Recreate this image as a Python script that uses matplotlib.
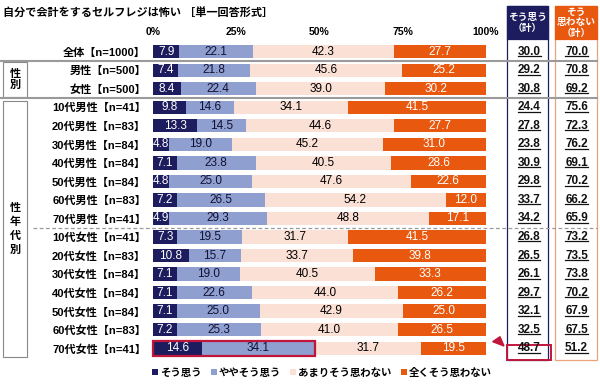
import matplotlib

matplotlib.use("Agg")
import matplotlib.pyplot as plt
from matplotlib.patches import Polygon, Rectangle
from matplotlib.transforms import blended_transform_factory

plt.rcParams["font.family"] = ["Liberation Sans", "Noto Sans CJK JP", "DejaVu Sans"]
plt.rcParams["font.weight"] = "bold"

# --- data -----------------------------------------------------------------
groups = ["全体", "男性", "女性",
          "10代男性", "20代男性", "30代男性", "40代男性", "50代男性", "60代男性", "70代男性",
          "10代女性", "20代女性", "30代女性", "40代女性", "50代女性", "60代女性", "70代女性"]
sizes = [1000, 500, 500, 41, 83, 84, 84, 84, 83, 41, 41, 83, 84, 84, 84, 83, 41]
strongly_agree = [7.9, 7.4, 8.4, 9.8, 13.3, 4.8, 7.1, 4.8, 7.2, 4.9,
                  7.3, 10.8, 7.1, 7.1, 7.1, 7.2, 14.6]
somewhat_agree = [22.1, 21.8, 22.4, 14.6, 14.5, 19.0, 23.8, 25.0, 26.5, 29.3,
                  19.5, 15.7, 19.0, 22.6, 25.0, 25.3, 34.1]
not_really = [42.3, 45.6, 39.0, 34.1, 44.6, 45.2, 40.5, 47.6, 54.2, 48.8,
              31.7, 33.7, 40.5, 44.0, 42.9, 41.0, 31.7]
not_at_all = [27.7, 25.2, 30.2, 41.5, 27.7, 31.0, 28.6, 22.6, 12.0, 17.1,
              41.5, 39.8, 33.3, 26.2, 25.0, 26.5, 19.5]
agree_total = [30.0, 29.2, 30.8, 24.4, 27.8, 23.8, 30.9, 29.8, 33.7, 34.2,
               26.8, 26.5, 26.1, 29.7, 32.1, 32.5, 48.7]
disagree_total = [70.0, 70.8, 69.2, 75.6, 72.3, 76.2, 69.1, 70.2, 66.2, 65.9,
                  73.2, 73.5, 73.8, 70.2, 67.9, 67.5, 51.2]
series_names = ["そう思う", "ややそう思う", "あまりそう思わない", "全くそう思わない"]
x_ticks = [0, 25, 50, 75, 100]

NAVY = "#1c1c5e"
BLUE = "#8f9fcf"
PINK = "#fbe0d6"
ORANGE = "#e8580f"
ORANGE_EDGE = "#e9a27a"
RED = "#c0163c"
GRAY = "#9a9a9a"

W, H = 600, 391


def fx(px):
    return px / W


def fy(py):
    return 1 - py / H


fig = plt.figure(figsize=(6.0, 3.91), dpi=100)
row_top, row_step = 51.7, 18.53
ax_top = row_top - row_step / 2
ax_bot = row_top + row_step * (len(groups) - 0.5)
ax = fig.add_axes([fx(153), fy(ax_bot), fx(486) - fx(153), (ax_bot - ax_top) / H])

rows = list(range(len(groups)))
series = [strongly_agree, somewhat_agree, not_really, not_at_all]
colors = [NAVY, BLUE, PINK, ORANGE]
text_colors = ["white", "#111133", "black", "white"]
left = [0.0] * len(groups)
handles = []
for vals, col, tcol in zip(series, colors, text_colors):
    bars = ax.barh(rows, vals, left=left, height=0.72, color=col, edgecolor="none")
    handles.append(bars)
    for r, v, l in zip(rows, vals, left):
        ax.text(l + v / 2, r, f"{v:.1f}", ha="center", va="center",
                fontsize=8.5, color=tcol, fontweight="normal")
    left = [a + b for a, b in zip(left, vals)]

ax.set_xlim(0, 100)
ax.set_ylim(len(groups) - 0.5, -0.5)
ax.set_yticks(rows)
ax.set_yticklabels([f"{g}【n={n}】" for g, n in zip(groups, sizes)], fontsize=8)
ax.xaxis.tick_top()
ax.set_xticks(x_ticks)
ax.set_xticklabels([f"{t}%" for t in x_ticks], fontsize=7.5)
ax.tick_params(length=0, axis="y", pad=5)
ax.tick_params(length=0, axis="x", pad=4)
for s in ax.spines.values():
    s.set_visible(False)

# highlight of the 70代女性 bar
last = len(groups) - 1
ax.add_patch(Rectangle((0, last - 0.4), agree_total[last], 0.8, fill=False,
                       edgecolor=RED, linewidth=1.6, clip_on=False))

# title
fig.text(fx(3), fy(12), "自分で会計をするセルフレジは怖い ［単一回答形式］",
         fontsize=8, ha="left", va="center")


def fig_rect(x0, y0, x1, y1, **kw):
    fig.add_artist(Rectangle((fx(x0), fy(y1)), fx(x1) - fx(x0), (y1 - y0) / H,
                             transform=fig.transFigure, **kw))


# separators
for yy in (row_top + row_step * 0.5, row_top + row_step * 2.5):
    fig.add_artist(plt.Line2D([0, fx(597)], [fy(yy), fy(yy)], color=GRAY,
                              linewidth=1.5, transform=fig.transFigure))
yy = row_top + row_step * 9.5
fig.add_artist(plt.Line2D([fx(33), fx(597)], [fy(yy), fy(yy)], color=GRAY,
                          linewidth=0.9, linestyle=(0, (3, 2)), transform=fig.transFigure))

# left group boxes
fig_rect(3, 62, 27, 97, facecolor="white", edgecolor="#888888", linewidth=0.8)
fig.text(fx(15), fy(79.5), "性\n別", ha="center", va="center", fontsize=8, linespacing=1.1)
fig_rect(3, 101, 27, 357, facecolor="white", edgecolor="#888888", linewidth=0.8)
fig.text(fx(15), fy(229), "性\n年\n代\n別", ha="center", va="center", fontsize=8,
         linespacing=1.45)

# right total columns
fig_rect(507, 6, 548, 360, facecolor="white", edgecolor=NAVY, linewidth=0.9)
fig_rect(507, 6, 548, 39, facecolor=NAVY, edgecolor=NAVY, linewidth=0.9)
fig.text(fx(527.5), fy(22.5), "そう思う\n（計）", ha="center", va="center",
         fontsize=7, color="white", linespacing=1.2)
fig_rect(555, 6, 597, 360, facecolor="white", edgecolor=ORANGE_EDGE, linewidth=0.9)
fig_rect(555, 6, 597, 39, facecolor=ORANGE, edgecolor=ORANGE, linewidth=0.9)
fig.text(fx(576), fy(22.5), "そう\n思わない\n（計）", ha="center", va="center",
         fontsize=7, color="white", linespacing=1.05)

trans = blended_transform_factory(fig.transFigure, ax.transData)
total_texts = []
for r in rows:
    for xpix, v in ((529, agree_total[r]), (576.5, disagree_total[r])):
        t = fig.text(fx(xpix), r, f"{v:.1f}", transform=trans, ha="center", va="center",
                     fontsize=8.5, color="#111111", zorder=5)
        total_texts.append(t)

fig_rect(507, 345, 551, 360, fill=False, edgecolor=RED, linewidth=1.4, zorder=4)
fig.add_artist(Polygon([(fx(492.7), fy(341.7)), (fx(500), fy(336.7)), (fx(504), fy(346))],
                       closed=True, facecolor=RED, edgecolor=RED,
                       transform=fig.transFigure))

ax.legend(handles, series_names, loc="center", bbox_to_anchor=(fx(322), fy(373)),
          bbox_transform=fig.transFigure, ncol=4, frameon=False, fontsize=7.5,
          handlelength=0.55, handleheight=0.55, handletextpad=0.2, columnspacing=0.9,
          borderaxespad=0, borderpad=0)

# underline the total values
fig.canvas.draw()
renderer = fig.canvas.get_renderer()
inv = fig.transFigure.inverted()
for t in total_texts:
    bb = t.get_window_extent(renderer)
    (x0, y0), (x1, _) = inv.transform([(bb.x0, bb.y0 + 1.5), (bb.x1, bb.y0)])
    fig.add_artist(plt.Line2D([x0, x1], [y0, y0], color="#111111", linewidth=0.9,
                              transform=fig.transFigure, zorder=5))

fig.savefig("out.png", dpi=100)
